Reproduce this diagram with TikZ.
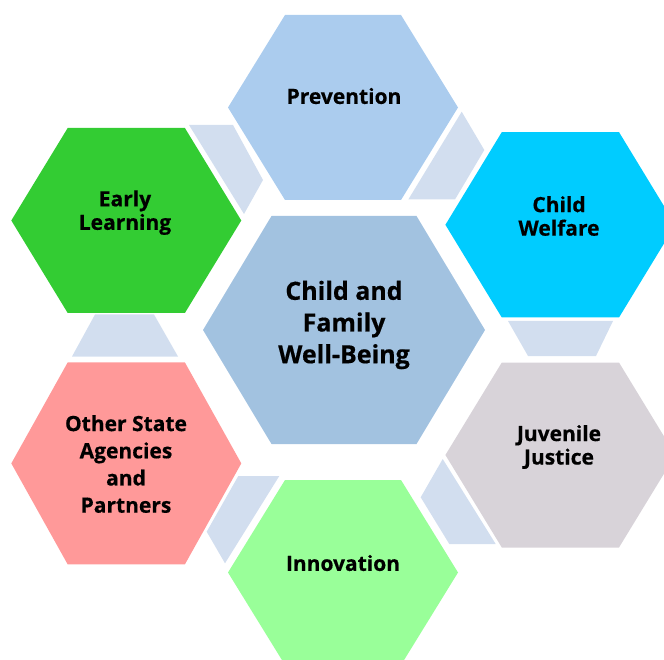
\documentclass[tikz,border=0pt]{standalone}
\usepackage{fontspec}
\setmainfont{Open Sans}[BoldFeatures={FakeBold=0.5}]
\definecolor{ccentral}{HTML}{A2C2E0}
\definecolor{cprev}{HTML}{ABCCEE}
\definecolor{cconn}{HTML}{D2DEEF}
\definecolor{cwelf}{HTML}{00CCFF}
\definecolor{cearly}{HTML}{33CC33}
\definecolor{cjuv}{HTML}{D8D3D9}
\definecolor{cother}{HTML}{FF9999}
\definecolor{cinno}{HTML}{99FF99}
\newcommand\hexpath[6]{%
  \fill[#6] ({#1-#3},{#2}) -- ({#1-#5},{#2-#4}) -- ({#1+#5},{#2-#4}) --
    ({#1+#3},{#2}) -- ({#1+#5},{#2+#4}) -- ({#1-#5},{#2+#4}) -- cycle;}
\tikzset{
  hexlabel/.style={font=\bfseries\fontsize{21}{23.5}\selectfont, align=center, inner sep=0pt, text=black},
  biglabel/.style={font=\bfseries\fontsize{25}{31.7}\selectfont, align=center, inner sep=0pt, text=black},
  conn/.style={fill=cconn}
}
\begin{document}
\begin{tikzpicture}[x=1pt,y=-1pt]
\useasboundingbox (0,0) rectangle (664,660);
\clip (0,0) rectangle (664,660);
% hexagons
\hexpath{344}{330}{141}{114}{72.5}{ccentral}
\hexpath{343}{107.5}{115}{92.5}{58}{cprev}
\hexpath{126.3}{220.5}{115}{92.5}{58.6}{cearly}
\hexpath{560.4}{224.8}{115}{92.7}{58.6}{cwelf}
\hexpath{560.4}{455}{115}{92.5}{58.6}{cjuv}
\hexpath{126.3}{463.4}{115}{101}{58.6}{cother}
\hexpath{343}{572.5}{115}{92.5}{58}{cinno}
% connector pieces
\fill[conn] (189,125) -- (233,125) -- (263,180) -- (244,214) -- cycle;
\fill[conn] (461.7,111.7) -- (484.3,150) -- (455,199.5) -- (408.3,199.5) -- cycle;
\fill[conn] (508,321) -- (613,321) -- (596,356) -- (528,356) -- cycle;
\fill[conn] (442.7,459) -- (495.7,544) -- (449.3,544) -- (420.7,497.3) -- cycle;
\fill[conn] (238.3,476) -- (279.3,476) -- (225,563.3) -- (206.7,531.7) -- cycle;
\fill[conn] (95,314.5) -- (154,314.5) -- (178,356.5) -- (72,356.5) -- cycle;
% labels
\node[biglabel] (center) at (344,325) {Child and\\Family\\Well-Being};
\node[hexlabel] (prevention) at (344,96) {Prevention};
\node[hexlabel] (early) at (125,212.6) {Early\\Learning};
\node[hexlabel] (welfare) at (559,216) {Child\\Welfare};
\node[hexlabel] (juvenile) at (559,447) {Juvenile\\Justice};
\node[hexlabel, font=\bfseries\fontsize{21}{27.2}\selectfont] (other) at (126,464) {Other State\\Agencies\\and\\Partners};
\node[hexlabel] (innovation) at (343,563) {Innovation};
\end{tikzpicture}
\end{document}
